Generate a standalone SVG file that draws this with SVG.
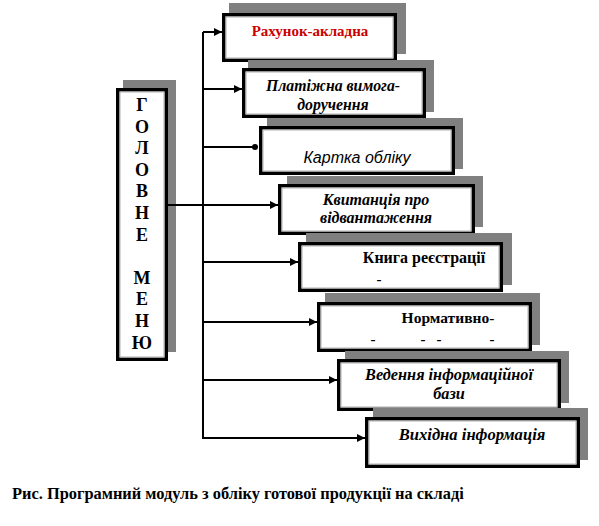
<svg xmlns="http://www.w3.org/2000/svg" width="599" height="526" viewBox="0 0 599 526">
<style>
.sh{fill:#808080}
.bx{fill:#fff;stroke:#000;stroke-width:3.5}
.in{fill:none;stroke:#b0b0b0;stroke-width:1}
.t{font-family:"Liberation Serif","Times New Roman",serif;font-weight:bold;font-size:15px;fill:#000;text-anchor:middle}
.i{font-style:italic}
.s{font-family:"Liberation Sans",Arial,sans-serif;font-weight:normal;font-style:italic;font-size:16px}
.ln{fill:none;stroke:#000;stroke-width:2}
.m{font-family:"Liberation Serif","Times New Roman",serif;font-weight:bold;font-size:18px;text-anchor:middle}
</style>
<defs>
<marker id="ah" viewBox="0 0 10 10" refX="10" refY="5" markerWidth="4" markerHeight="4" orient="auto" markerUnits="strokeWidth">
<path d="M0,0 L10,5 L0,10 z" fill="#000"/>
</marker>
<marker id="dot" viewBox="0 0 10 10" refX="5" refY="5" markerWidth="3" markerHeight="3" orient="auto" markerUnits="strokeWidth">
<circle cx="5" cy="5" r="5" fill="#000"/>
</marker>
</defs>
<rect width="599" height="526" fill="#fff"/>

<g id="main">
<rect class="sh" x="123" y="80" width="53" height="272"/>
<rect class="bx" x="117.75" y="89.75" width="48.5" height="269.5"/>
<rect class="in" x="120" y="92" width="44" height="265"/>
<text class="m" x="142" y="111">Г</text>
<text class="m" x="142" y="133">О</text>
<text class="m" x="142" y="154">Л</text>
<text class="m" x="142" y="176">О</text>
<text class="m" x="142" y="197">В</text>
<text class="m" x="142" y="219">Н</text>
<text class="m" x="142" y="241">Е</text>
<text class="m" x="142" y="284">М</text>
<text class="m" x="142" y="305">Е</text>
<text class="m" x="142" y="327">Н</text>
<text class="m" x="142" y="349">Ю</text>
</g>

<g id="connectors">
<line class="ln" x1="203" y1="32" x2="203" y2="438"/>
<line class="ln" x1="203" y1="32" x2="222" y2="32" marker-end="url(#ah)"/>
<line class="ln" x1="203" y1="89" x2="242" y2="89" marker-end="url(#ah)"/>
<line class="ln" x1="203" y1="147" x2="255" y2="147" marker-end="url(#dot)"/>
<line class="ln" x1="168" y1="205" x2="278" y2="205" marker-end="url(#ah)"/>
<line class="ln" x1="203" y1="262" x2="298" y2="262" marker-end="url(#ah)"/>
<line class="ln" x1="203" y1="322" x2="317" y2="322" marker-end="url(#ah)"/>
<line class="ln" x1="203" y1="380" x2="337" y2="380" marker-end="url(#ah)"/>
<line class="ln" x1="202" y1="438" x2="365" y2="438" marker-end="url(#ah)"/>
</g>

<g id="n1">
<rect class="sh" x="229" y="3" width="177" height="51"/>
<rect class="bx" x="223.75" y="14.75" width="171.5" height="45.5"/>
<rect class="in" x="226" y="17" width="167" height="41"/>
<text class="t" x="310" y="36" style="fill:#cc0000">Рахунок-акладна</text>
</g>

<g id="n2">
<rect class="sh" x="248" y="60" width="186" height="52"/>
<rect class="bx" x="243.75" y="69.75" width="180.5" height="46.5"/>
<rect class="in" x="246" y="72" width="176" height="42"/>
<text class="t i" x="333" y="91" style="font-size:15.8px">Платіжна вимога-</text>
<text class="t i" x="333" y="110" style="font-size:15.8px">доручення</text>
</g>

<g id="n3">
<rect class="sh" x="267" y="118" width="196" height="51"/>
<rect class="bx" x="260.75" y="127.75" width="192.5" height="45.5"/>
<rect class="in" x="263" y="130" width="188" height="41"/>
<text class="t s" x="357" y="163">Картка обліку</text>
</g>

<g id="n4">
<rect class="sh" x="287" y="176" width="196" height="51"/>
<rect class="bx" x="279.75" y="185.75" width="193.5" height="47.5"/>
<rect class="in" x="282" y="188" width="189" height="43"/>
<text class="t i" x="376" y="205" style="font-size:16px">Квитанція про</text>
<text class="t i" x="376" y="223" style="font-size:16px">відвантаження</text>
</g>

<g id="n5">
<rect class="sh" x="306" y="233" width="206" height="52"/>
<rect class="bx" x="299.75" y="243.75" width="201.5" height="46.5"/>
<rect class="in" x="302" y="246" width="197" height="42"/>
<text class="t" x="424" y="263" style="font-size:16px">Книга реєстрації</text>
<text class="t" x="379" y="284">-</text>
</g>

<g id="n6">
<rect class="sh" x="325" y="293" width="215" height="52"/>
<rect class="bx" x="318.75" y="303.75" width="211.5" height="46.5"/>
<rect class="in" x="321" y="306" width="207" height="42"/>
<text class="t" x="448" y="323" style="font-size:15.5px">Нормативно-</text>
<text class="t" x="373" y="344">-</text>
<text class="t" x="423" y="344">-</text>
<text class="t" x="439" y="344">-</text>
<text class="t" x="492" y="344">-</text>
</g>

<g id="n7">
<rect class="sh" x="345" y="351" width="224" height="52"/>
<rect class="bx" x="338.75" y="360.75" width="220.5" height="48.5"/>
<rect class="in" x="341" y="363" width="216" height="44"/>
<text class="t i" x="449" y="380" style="font-size:16.3px">Ведення інформаційної</text>
<text class="t i" x="449" y="399" style="font-size:16.3px">бази</text>
</g>

<g id="n8">
<rect class="sh" x="373" y="408" width="215" height="52"/>
<rect class="bx" x="366.75" y="418.75" width="211.5" height="47.5"/>
<rect class="in" x="369" y="421" width="207" height="43"/>
<text class="t i" x="472" y="440" style="font-size:16.6px">Вихідна інформація</text>
</g>

<text class="t" x="12" y="499" style="text-anchor:start;font-size:16.4px">Рис. Програмний модуль з обліку готової продукції на складі</text>
</svg>
